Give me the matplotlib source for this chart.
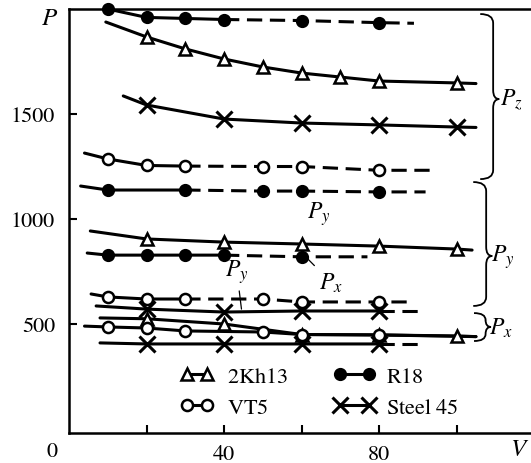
import matplotlib
matplotlib.use("Agg")
import matplotlib.pyplot as plt
from matplotlib.lines import Line2D
from matplotlib.path import Path
from matplotlib.patches import PathPatch
from matplotlib.transforms import IdentityTransform

# STIX ships with matplotlib and looks like the Times-style text of the original
plt.rcParams["font.family"] = ["STIXGeneral", "Liberation Serif", "DejaVu Serif"]
plt.rcParams["mathtext.fontset"] = "stix"
plt.rcParams["font.size"] = 16

# cutting speed V and cutting force P
# (a curve may start / stop a bit before / after its first / last marker)
r18_pz_v = [10, 20, 30, 40, 60, 80, 89]
r18_pz_p = [2000, 1960, 1955, 1950, 1945, 1935, 1932]

kh13_pz_v = [9.5, 20, 30, 40, 50, 60, 70, 80, 100, 105]
kh13_pz_p = [1938, 1867, 1810, 1762, 1724, 1695, 1676, 1657, 1648, 1645]

st45_pz_v = [14, 20, 40, 60, 80, 100, 105]
st45_pz_p = [1586, 1543, 1476, 1457, 1448, 1438, 1436]

vt5_pz_v = [4, 10, 20, 30, 50, 60, 80, 95]
vt5_pz_p = [1314, 1286, 1255, 1252, 1250, 1250, 1232, 1232]

r18_py_v = [3, 10, 30, 50, 60, 80, 92]
r18_py_p = [1157, 1138, 1138, 1133, 1133, 1129, 1129]

kh13_py_v = [5.5, 20, 40, 60, 80, 100, 104]
kh13_py_p = [943, 905, 890, 881, 871, 857, 852]

r18_px_v = [4.7, 10, 20, 30, 40, 60, 77]
r18_px_p = [838, 828, 828, 828, 828, 820, 820]

vt5_py_v = [5.7, 10, 20, 30, 50, 60, 80, 88]
vt5_py_p = [643, 629, 619, 619, 619, 605, 605, 605]

st45_py_v = [7, 20, 40, 60, 80, 91]
st45_py_p = [586, 571, 557, 562, 562, 562]

kh13_px_v = [8, 20, 40, 60, 80, 100, 105]
kh13_px_p = [529, 525, 500, 450, 448, 443, 440]

vt5_px_v = [4, 10, 20, 30, 50, 60, 80, 105]
vt5_px_p = [490, 486, 481, 467, 462, 450, 448, 440]

st45_px_v = [8, 20, 40, 60, 80, 91]
st45_px_p = [410, 405, 405, 405, 405, 405]

materials = ["2Kh13", "R18", "VT5", "Steel 45"]
x_ticks = [20, 40, 60, 80, 100]
x_ticklabels = ["", "40", "", "80", ""]
y_ticks = [500, 1000, 1500]

styles = {
    "2Kh13": dict(marker="^", mfc="white", ms=8, mew=1.8),
    "R18": dict(marker="o", mfc="black", ms=8, mew=1.5),
    "VT5": dict(marker="o", mfc="white", ms=8, mew=1.8),
    "Steel 45": dict(marker="x", ms=11, mew=2.2),
}

# (v, p, material, marker slice, index where the solid part ends)
series = [
    (r18_pz_v, r18_pz_p, "R18", slice(0, 6), 3),
    (kh13_pz_v, kh13_pz_p, "2Kh13", slice(1, 9), 9),
    (st45_pz_v, st45_pz_p, "Steel 45", slice(1, 6), 6),
    (vt5_pz_v, vt5_pz_p, "VT5", slice(1, 7), 3),
    (r18_py_v, r18_py_p, "R18", slice(1, 6), 2),
    (kh13_py_v, kh13_py_p, "2Kh13", slice(1, 6), 6),
    (r18_px_v, r18_px_p, "R18", slice(1, 6), 4),
    (vt5_py_v, vt5_py_p, "VT5", slice(1, 7), 3),
    (st45_py_v, st45_py_p, "Steel 45", slice(1, 5), 4),
    (kh13_px_v, kh13_px_p, "2Kh13", slice(1, 6), 6),
    (vt5_px_v, vt5_px_p, "VT5", slice(1, 7), 7),
    (st45_px_v, st45_px_p, "Steel 45", slice(1, 5), 4),
]

fig = plt.figure(figsize=(5.31, 4.64), dpi=100)
ax = fig.add_axes([69 / 531, 30 / 464, 462 / 531, 424 / 464])
ax.set_xlim(0, 119.2)
ax.set_ylim(-19, 2000)

for v, p, mat, marks, solid_to in series:
    ax.plot(v[:solid_to + 1], p[:solid_to + 1], color="k", lw=2.2,
            solid_capstyle="round", zorder=2)
    if solid_to < len(v) - 1:
        ax.plot(v[solid_to:], p[solid_to:], color="k", lw=2.2,
                ls=(0, (5, 2.5)), zorder=2)
    ax.plot(v[marks], p[marks], ls="none", color="k", mec="k",
            zorder=3, clip_on=False, **styles[mat])

for s in ["top", "left", "bottom"]:
    ax.spines[s].set_linewidth(1.8)
ax.spines["right"].set_visible(False)
ax.set_xticks(x_ticks)
ax.set_xticklabels(x_ticklabels)
ax.set_yticks(y_ticks)
ax.tick_params(direction="in", length=6, width=1.5)
ax.tick_params(axis="x", pad=8)
ax.tick_params(axis="y", pad=10)


def brace(v, p_top, p_bot, p_tip, w=19, r=9):
    x0, yt = ax.transData.transform((v, p_top))
    _, yb = ax.transData.transform((v, p_bot))
    _, ym = ax.transData.transform((v, p_tip))
    r = min(r, (yt - yb) / 4)
    xm = x0 + w * 0.68
    xt = x0 + w
    verts = [(x0, yt), (xm, yt), (xm, yt - r),
             (xm, ym + r), (xm, ym), (xt, ym),
             (xm, ym), (xm, ym - r),
             (xm, yb + r), (xm, yb), (x0, yb)]
    codes = [Path.MOVETO, Path.CURVE3, Path.CURVE3, Path.LINETO,
             Path.CURVE3, Path.CURVE3, Path.CURVE3, Path.CURVE3,
             Path.LINETO, Path.CURVE3, Path.CURVE3]
    ax.add_patch(PathPatch(Path(verts, codes), fill=False, lw=1.3,
                           transform=IdentityTransform(), clip_on=False))


brace(106.1, 1976, 1190, 1571)
brace(104.3, 1176, 586, 824)
brace(104.5, 552, 419, 486, w=17)
ax.text(111.2, 1571, "$P_z$", ha="left", va="center", fontsize=17)
ax.text(108.9, 824, "$P_y$", ha="left", va="center", fontsize=17)
ax.text(108.4, 486, "$P_x$", ha="left", va="center", fontsize=17)

ax.text(64.5, 1030, "$P_y$", ha="center", va="center", fontsize=17)
ax.annotate("$P_y$", xy=(44.5, 571), xytext=(43.3, 750), ha="center",
            va="center", fontsize=17,
            arrowprops=dict(arrowstyle="-", lw=0.9, shrinkA=2, shrinkB=0))
ax.annotate("$P_x$", xy=(61.5, 812), xytext=(67.5, 700), ha="center",
            va="center", fontsize=17,
            arrowprops=dict(arrowstyle="-", lw=0.9, shrinkA=2, shrinkB=0))

# legend labels go through mathtext so they surely come out in STIX (Times look)
labels = [r"$\mathrm{" + m.replace(" ", r"\ ") + "}$" for m in materials]
handles = [Line2D([], [], color="k", lw=2.2, **styles[m]) for m in materials]
leg1 = ax.legend([handles[0], handles[2]], [labels[0], labels[2]],
                 loc="upper left", bbox_to_anchor=(180 / 531, 1 - 367 / 464),
                 bbox_transform=fig.transFigure, frameon=False, numpoints=2,
                 fontsize=16, handlelength=1.5, handletextpad=0.6,
                 labelspacing=0.5, borderpad=0, borderaxespad=0)
ax.add_artist(leg1)
ax.legend([handles[1], handles[3]], [labels[1], labels[3]],
          loc="upper left", bbox_to_anchor=(333 / 531, 1 - 367 / 464),
          bbox_transform=fig.transFigure, frameon=False, numpoints=2,
          fontsize=16, handlelength=1.9, handletextpad=0.5,
          labelspacing=0.5, borderpad=0, borderaxespad=0)

fig.text(52 / 531, 1 - 452 / 464, "0", ha="center", va="center")
fig.text(50 / 531, 1 - 19 / 464, "$P$", ha="center", va="center", fontsize=18)
fig.text(529 / 531, 1 - 450 / 464, "$V$", ha="right", va="center", fontsize=18)

fig.savefig("out.png", dpi=100)
